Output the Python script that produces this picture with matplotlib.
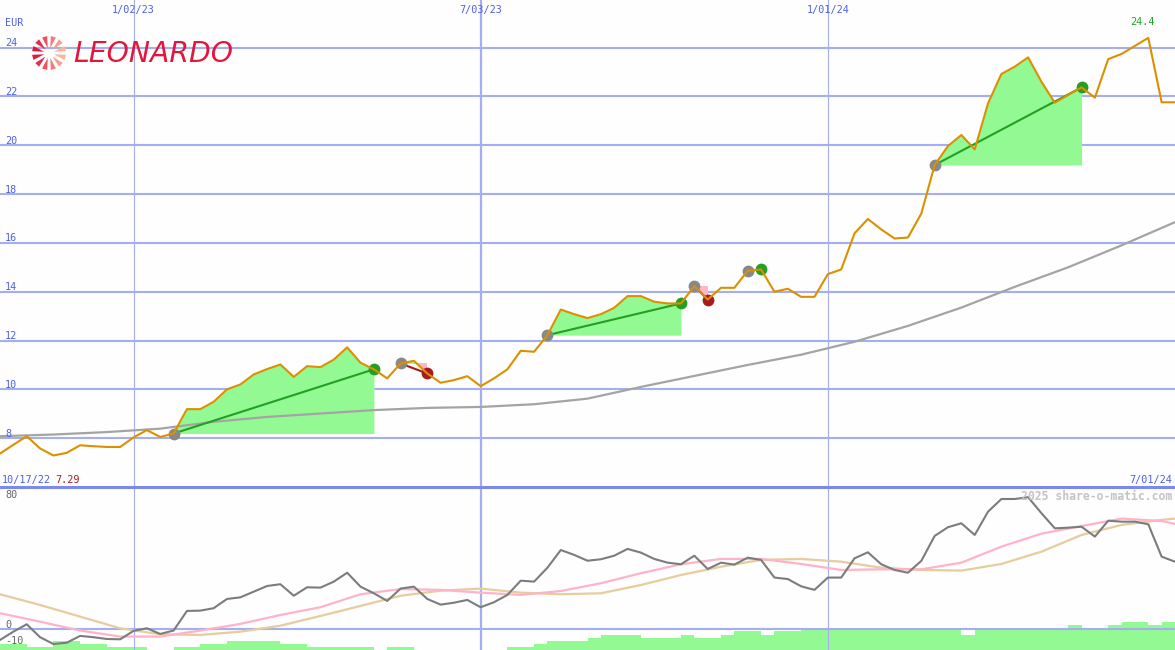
import matplotlib
matplotlib.use('Agg')
import matplotlib.pyplot as plt
from matplotlib.lines import Line2D
from matplotlib.patches import Polygon
import numpy as np
import pandas as pd

# ---------------- data ----------------
start_date = '2022-10-24'
start_label = '10/17/22'
end_label = '7/01/24'
price = [7.37, 7.73, 8.08, 7.58, 7.29, 7.40, 7.71, 7.67, 7.64, 7.64,
         8.03, 8.33, 8.05, 8.19, 9.19, 9.19, 9.49, 10.0, 10.2, 10.61,
         10.83, 11.02, 10.51, 10.95, 10.91, 11.22, 11.72, 11.09, 10.82, 10.45,
         11.06, 11.17, 10.65, 10.27, 10.38, 10.54, 10.13, 10.45, 10.82, 11.58,
         11.54, 12.22, 13.27, 13.08, 12.92, 13.08, 13.34, 13.82, 13.82, 13.59,
         13.52, 13.52, 14.23, 13.68, 14.16, 14.16, 14.86, 14.91, 14.0, 14.12,
         13.79, 13.79, 14.72, 14.91, 16.39, 16.98, 16.55, 16.18, 16.22, 17.2,
         19.19, 19.97, 20.42, 19.83, 21.72, 22.92, 23.22, 23.6, 22.6, 21.74,
         22.06, 22.37, 21.95, 23.53, 23.74, 24.07, 24.4, 21.76, 21.76]

# long moving average, one value every 4 weeks
ma_long = [8.08, 8.15, 8.25, 8.39, 8.67, 8.87, 9.01, 9.15, 9.24, 9.28, 9.39, 9.62,
           10.1, 10.55, 11.0, 11.42, 11.95, 12.6, 13.35, 14.2, 15.0, 15.9, 16.85]

# oscillator (weekly)
osc_main = [-6.6, -1.5, 3.1, -4.9, -9.1, -8.3, -4.1, -4.9, -6.0, -6.2,
            -1.0, 0.6, -2.9, -0.8, 11.3, 11.5, 13.0, 18.7, 19.7, 23.2,
            26.7, 27.8, 20.7, 25.9, 25.7, 29.4, 34.9, 26.3, 22.2, 17.5,
            25.1, 26.3, 18.7, 15.2, 16.4, 18.1, 13.6, 16.7, 21.2, 30.0,
            29.4, 38.0, 48.9, 45.9, 42.3, 43.2, 45.4, 49.6, 47.3, 43.4,
            41.1, 40.1, 45.4, 37.2, 41.1, 39.9, 44.2, 42.8, 31.9, 31.0,
            26.5, 24.3, 31.9, 31.9, 43.8, 47.5, 40.1, 36.6, 34.9, 42.2,
            57.6, 63.0, 65.4, 58.2, 72.6, 80.4, 80.4, 81.5, 71.6, 62.3,
            62.7, 63.3, 57.2, 67.0, 66.4, 66.4, 64.8, 44.8, 41.7]

# smoothed oscillators, every 3 weeks plus last week
osc_fast = [9.9, 4.7, -0.8, -4.5, -4.5, -0.8, 3.3, 8.8, 13.6, 21.6, 24.8, 24.3,
            22.6, 21.2, 23.6, 28.4, 34.6, 40.1, 43.4, 43.4, 40.3, 36.6, 37.0,
            37.0, 41.1, 51.0, 59.0, 63.7, 68.3, 66.8, 65.0]
osc_slow = [21.6, 15.0, 7.8, 0.6, -3.1, -3.5, -1.5, 2.2, 8.2, 14.4, 20.7, 23.8,
            25.1, 22.6, 21.6, 22.2, 27.3, 33.5, 38.6, 42.8, 43.4, 41.7, 38.0,
            36.6, 36.2, 40.3, 47.9, 58.2, 64.4, 67.5, 68.3]

# weekly volume (relative units)
volume = [5.7, 5.7, 3, 3, 9.3, 9.3, 5.7, 5.7, 3, 3,
          3, 0, 0, 3, 3, 5.7, 5.7, 9.3, 9.3, 9.3,
          9.3, 5.7, 5.7, 3, 3, 3, 3, 3, 0, 3,
          3, 0, 0, 0, 0, 0, 0, 0, 3, 3,
          5.7, 9.3, 9.3, 9.3, 12.3, 15, 15, 15, 12.3, 12.3,
          12.3, 15, 12.3, 12.3, 15, 19, 19, 15, 19, 19,
          20, 20, 20, 22, 22, 20, 20, 20, 20, 20,
          20, 20, 15, 20, 20, 22, 22, 20, 20, 22,
          25, 22, 22, 25, 28, 28, 25, 28]

entry_idx = [13, 30, 41, 52, 56, 70]
exit_idx = [28, 32, 51, 53, 57, 81]

price_levels = [8, 10, 12, 14, 16, 18, 20, 22, 24]
osc_labels = [80, 0, -10]
date_marks = ['2023-01-02', '2023-07-03', '2024-01-01']
date_labels = ['1/02/23', '7/03/23', '1/01/24']
date_mark_widths = [0.8, 1.6, 0.8]

# ---------------- style ----------------
BG = '#fdfefd'
GRID = '#a6aef2'
SEP = '#7c89ec'
BLUE = '#4f5fe6'
ORANGE = '#dc9000'
GREY_MA = '#a4a4a4'
FILL_G = '#93f993'
GREEN = '#22a022'
RED = '#a41c1c'
PINK = '#ffb8c8'
MARK_GREY = '#888888'
MONO = 'DejaVu Sans Mono'

W, H = 1175, 650
TOP_H = 487

dates = pd.date_range(start_date, periods=len(price), freq='7D')
ma_dates = dates[::4]
s_dates = list(dates[::3]) + [dates[-1]]
p = np.array(price)

fig = plt.figure(figsize=(W / 100, H / 100), dpi=100, facecolor=BG)
ax = fig.add_axes([0, (H - TOP_H) / H, 1, TOP_H / H])
axb = fig.add_axes([0, 0, 1, (H - TOP_H) / H])
axv = axb.twinx()
for a in (ax, axb, axv):
    a.set_axis_off()
    a.set_xlim(dates[0], dates[-1])
ax.set_ylim(6.0, 25.95)
axb.set_ylim(-12.8, 87.8)
axv.set_ylim(0, H - TOP_H)
axv.set_zorder(0)
axb.set_zorder(1)
axb.patch.set_visible(False)

# grid
for lv in price_levels:
    ax.axhline(lv, color=GRID, lw=1.5, zorder=0.5)
axb.axhline(0, color=GRID, lw=1.5, zorder=0.5)
for dm, lw in zip(date_marks, date_mark_widths):
    ax.axvline(pd.Timestamp(dm), color=GRID, lw=lw, zorder=0.5)
    axb.axvline(pd.Timestamp(dm), color=GRID, lw=lw, zorder=3)
fig.add_artist(Line2D([0, 1], [(H - TOP_H) / H] * 2, transform=fig.transFigure,
                      color=SEP, lw=2.2))

# trades: fills
for e, x in zip(entry_idx, exit_idx):
    d = dates[e:x + 1]
    seg = p[e:x + 1]
    base = price[e]
    ax.fill_between(d, base, seg, where=seg >= base, interpolate=True,
                    color=FILL_G, lw=0, zorder=1)
    ax.fill_between(d, base, seg, where=seg < base, interpolate=True,
                    color=PINK, lw=0, zorder=1)

ax.plot(ma_dates, ma_long, color=GREY_MA, lw=1.6, zorder=2)

for e, x in zip(entry_idx, exit_idx):
    col = GREEN if price[x] > price[e] else RED
    ax.plot([dates[e], dates[x]], [price[e], price[x]], color=col, lw=1.5, zorder=3)
    ax.plot(dates[e], price[e], 'o', ms=8.5, color=MARK_GREY, mec='none', zorder=3.5)
    ax.plot(dates[x], price[x], 'o', ms=8.5, color=col, mec='none', zorder=3.5)

ax.plot(dates, price, color=ORANGE, lw=1.5, zorder=4)

# lower panel
axv.bar(dates[:-1], volume, width=7, align='edge', color=FILL_G, lw=0, zorder=1)
axb.plot(s_dates, osc_slow, color='#e6cc9e', lw=1.6, zorder=4)
axb.plot(s_dates, osc_fast, color='#ffb3c8', lw=1.6, zorder=4)
axb.plot(dates, osc_main, color='#7c7c7c', lw=1.5, zorder=5)

# ---------------- text ----------------
ytr = ax.get_yaxis_transform()
for lv in price_levels:
    ax.text(5 / W, lv + 0.06, f'{lv}', transform=ytr, ha='left', va='baseline',
            color=BLUE, fontsize=7.3, family=MONO, zorder=6)
xtr = ax.get_xaxis_transform()
for dm, lab in zip(date_marks, date_labels):
    ax.text(pd.Timestamp(dm), 1 - 12.7 / TOP_H, lab, transform=xtr, ha='center',
            va='baseline', color=BLUE, fontsize=7.3, family=MONO, zorder=6)
btr = axb.get_yaxis_transform()
for lv in osc_labels:
    axb.text(5 / W, lv + 0.8, f'{lv}', transform=btr, ha='left', va='baseline',
             color='#666666', fontsize=7.3, family=MONO, zorder=6)

ov = fig.add_axes([0, 0, 1, 1])
ov.set_axis_off()
ov.set_xlim(0, W)
ov.set_ylim(H, 0)
ov.set_zorder(10)
ov.patch.set_visible(False)

ov.text(5, 25.7, 'EUR', color=BLUE, fontsize=7.3, family=MONO, va='baseline')
ov.text(1142, 25, f'{max(price):.1f}', color=GREEN, fontsize=7.3, family=MONO,
        ha='center', va='baseline')
ov.text(2, 482.7, start_label, color=BLUE, fontsize=7.3, family=MONO, va='baseline')
ov.text(55, 482.7, f'{min(price):.2f}', color=RED, fontsize=7.3, family=MONO,
        va='baseline')
ov.text(1172, 482.7, end_label, color=BLUE, fontsize=7.3, family=MONO,
        ha='right', va='baseline')
ov.text(1172, 500, '2025 share-o-matic.com', color='#c4c4c4', fontsize=8.3,
        family=MONO, ha='right', va='baseline', fontweight='bold')

# logo
cx, cy = 49, 53
n = 12
c0 = np.array([0xe0, 0x16, 0x3c]) / 255
c1 = np.array([0xfa, 0xb8, 0xa0]) / 255
for k in range(n):
    ang = np.deg2rad(k * 360 / n + 15)
    t = (1 - np.cos(ang)) / 2  # left side darker
    col = c1 * (1 - t) + c0 * t
    r0, r1, sp = 5, 17, np.deg2rad(9)
    pts = [(cx + r0 * np.cos(ang), cy - r0 * np.sin(ang)),
           (cx + r1 * np.cos(ang - sp), cy - r1 * np.sin(ang - sp)),
           (cx + r1 * np.cos(ang + sp), cy - r1 * np.sin(ang + sp))]
    ov.add_patch(Polygon(pts, closed=True, color=col, lw=0))
ov.text(73, 62, 'LEONARDO', color='#e3173e', fontsize=20.3, fontstyle='italic',
        family='DejaVu Sans', va='baseline', ha='left')

fig.savefig('out.png', dpi=100, facecolor=BG)
